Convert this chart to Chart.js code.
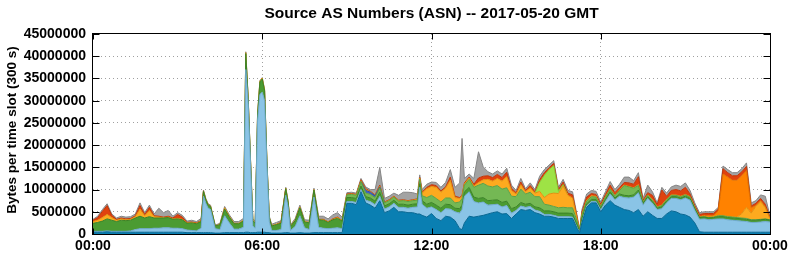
<!DOCTYPE html>
<html><head><meta charset="utf-8">
<script src="https://cdn.jsdelivr.net/npm/chart.js@4/dist/chart.umd.min.js"></script>
<style>html,body{margin:0;padding:0;background:#fff}#wrap{width:792px;height:259px}</style>
</head><body><div id="wrap"><canvas id="c" width="792" height="259"></canvas></div>
<script>
const chartTitle = 'Source AS Numbers (ASN) -- 2017-05-20 GMT';
const yAxisTitle = 'Bytes per time slot (300 s)';
const yTickValues = [0,5000000,10000000,15000000,20000000,25000000,30000000,35000000,40000000,45000000];
const xTickMinutes = [0,360,720,1080,1440];
const xTickLabels = ['00:00','06:00','12:00','18:00','00:00'];
const UNIT = 1e6; // series below are in millions of bytes

const minutes = [0,10,20,30,40,50,
60,70,80,90,100,110,
120,130,140,150,160,170,
180,190,200,210,220,230,235,
240,245,250,260,270,280,290,
300,310,320,325,330,335,340,345,350,355,
360,365,370,375,380,390,400,410,415,
420,430,440,450,460,470,
480,490,500,510,520,530,
540,550,560,570,580,590,
600,610,620,630,640,650,
660,670,680,690,695,700,710,
720,730,740,750,760,770,
780,785,790,800,810,820,830,
840,850,860,870,880,890,
900,910,920,930,940,950,
960,970,980,990,1000,1010,
1020,1030,1035,1040,1050,1060,1070,
1080,1090,1100,1110,1120,1130,
1140,1150,1160,1170,1180,1190,
1200,1210,1220,1230,1240,1250,
1260,1270,1280,1290,1300,1310,
1320,1330,1340,1350,1360,1370,
1380,1390,1400,1410,1420,1430,
1440];

const darkBlue = [.4,.4,.4,.5,.4,.4,
.4,.4,.4,.4,.4,.4,
.4,.4,.4,.4,.4,.4,
.4,.4,.3,.3,.3,.3,.3,
.3,.3,.3,.2,.2,.3,.3,
.3,.3,.3,.4,.4,.3,.3,.3,.4,.4,
.4,.4,.3,.3,.2,.2,.2,.3,.3,
.2,.2,.3,.2,.2,.3,
.3,.3,.3,.3,.3,.3,
6.9,6.9,6.6,9.5,7.0,6.5,
5.8,7.5,4.8,5.2,6.0,5.0,
5.0,4.8,4.8,4.5,4.5,4.2,3.8,
4.6,3.5,3.0,4.0,3.8,3.0,
1.2,1.0,2.5,4.0,3.8,4.0,4.2,
4.5,4.8,5.0,4.5,4.6,3.5,
4.5,5.5,5.3,5.5,4.8,4.5,
4.0,4.0,3.8,3.5,3.5,3.5,
3.5,1.2,.3,2.5,6.0,7.0,7.0,
5.0,6.5,7.5,6.5,6.0,5.5,
5.3,4.8,5.5,4.0,5.0,4.2,
3.5,3.5,4.5,5.2,5.0,4.5,
4.3,3.8,2.5,.5,.4,.4,
.4,.4,.4,.4,.4,.4,
.4,.4,.4,.4,.4,.4,
.4];

const lightBlue = [.2,.2,.2,.2,.2,.2,
.2,.2,.3,.6,.8,.8,
.8,.9,.9,1.0,1.0,.9,
.9,.8,.6,.5,.4,1.0,8.2,
6.6,5.5,5.2,1.0,.8,3.8,2.2,
.8,.8,1.2,36.6,29.0,15.5,1.5,1.0,25.0,31.0,
31.5,29.6,15.0,2.5,.6,.6,.8,8.4,5.8,
.6,1.5,3.8,1.2,.8,8.0,
1.2,1.0,.9,1.0,1.1,.9,
.4,.4,.5,.5,.6,.8,
.8,1.0,.8,.9,.9,1.0,
1.0,1.0,1.2,1.6,6.0,2.5,2.0,
1.5,2.0,1.8,1.7,1.8,2.0,
3.5,4.5,6.0,5.5,3.5,3.0,3.0,
2.0,1.8,1.7,1.6,1.8,1.2,
.8,.8,.7,.7,.6,.6,
.4,.4,.4,.4,.4,.4,
.3,.2,.1,.2,.3,.3,.3,
.4,.8,1.5,1.2,2.5,2.7,
2.8,3.5,3.8,2.5,3.0,2.7,
2.0,2.2,2.5,2.8,3.0,3.2,
3.8,3.8,2.8,2.8,3.0,2.8,
2.9,3.0,3.0,2.8,2.7,2.6,
2.5,2.4,2.2,2.2,2.3,2.4,
2.3];

const darkGreen = [1.8,2.0,2.3,2.7,2.5,2.2,
2.5,2.4,2.4,2.6,2.8,2.4,
2.7,2.3,2.3,2.2,2.3,2.0,
2.1,2.0,1.5,1.7,1.6,1.5,1.1,
.8,.7,.7,.6,1.1,1.5,1.3,
1.2,1.2,1.4,3.6,1.2,.9,1.2,1.1,1.3,2.8,
3.0,2.2,1.0,.9,1.0,1.3,1.4,1.5,1.1,
.9,1.3,1.8,1.3,1.5,1.6,
1.7,1.8,1.4,1.9,2.1,1.7,
.9,.9,.9,.8,.8,.8,
.8,.9,.7,.7,.7,.7,
.7,.7,.7,.7,.8,.8,.9,
1.0,1.0,1.0,1.0,1.0,.8,
1.0,1.0,1.0,1.0,1.0,1.0,1.0,
1.0,1.0,1.0,1.0,1.0,1.0,
.8,.8,.7,.7,.7,.8,
.8,.8,.8,.8,.8,.8,
.8,.6,.2,.8,.5,.5,.5,
.4,.5,.5,.4,.5,.5,
.5,.5,.6,.4,.4,.4,
.3,.4,.4,.4,.4,.4,
.4,.4,.4,.4,.4,.4,
.4,.5,.5,.5,.5,.5,
.5,.5,.5,.5,.5,.5,
.4];

const lightGreen = [0,0,0,0,0,0,
0,0,0,0,0,0,
0,0,0,0,0,0,
0,0,0,0,0,0,0,
0,0,0,0,0,0,0,
0,0,0,0,0,0,0,0,0,0,
0,0,0,0,0,0,0,0,0,
0,0,0,0,0,0,
0,0,0,0,0,0,
.6,.7,.7,1.0,.8,.8,
.8,1.0,.7,.7,.7,.7,
.8,.8,.8,.8,1.0,1.1,1.5,
1.6,1.5,1.4,1.4,1.5,1.2,
1.5,1.5,1.5,1.8,2.2,3.0,3.2,
3.3,3.0,3.2,3.0,3.0,2.8,
2.3,3.0,2.3,2.5,2.3,2.5,
1.5,1.3,1.2,1.2,1.3,1.2,
1.3,.8,.1,.8,.6,.6,.5,
.4,.5,.6,.5,.8,2.2,
2.0,1.5,1.0,.3,.3,.3,
.2,.3,.3,.3,.3,.3,
.3,.3,.2,.1,.1,.1,
.1,.2,.2,.2,.2,.2,
.2,.2,.1,.1,.1,.1,
.1];

const royalBlue = [0,0,0,0,0,0,
0,0,0,0,0,0,
0,0,0,0,0,0,
0,0,0,0,0,0,0,
0,0,0,0,0,0,0,
0,0,0,0,0,0,0,0,0,0,
0,0,0,0,0,0,0,0,0,
0,0,0,0,0,0,
0,0,0,0,0,0,
0,0,0,0,.6,.5,
.4,.2,0,0,0,0,
0,0,0,0,0,0,0,
0,0,0,0,0,0,
0,0,0,0,0,0,0,
0,0,0,0,0,0,
0,0,0,0,0,0,
0,0,0,0,0,0,
0,0,0,0,0,0,0,
0,0,0,0,0,0,
0,0,0,0,0,0,
0,0,0,0,0,0,
0,0,0,0,0,0,
0,0,0,0,0,0,
0,0,0,0,0,0,
0];

const yellowOrange = [.4,.5,.8,1.0,.6,.3,
.3,.2,.2,.3,1.6,.5,
1.4,.3,.2,.1,.1,.1,
.1,.1,.1,.1,.1,.1,.1,
.1,.1,.1,0,.1,.3,.2,
.1,.1,.2,.2,.2,.2,.1,.1,.2,.2,
.2,.2,.1,.1,.1,.1,.1,.1,.1,
.1,.1,.2,.1,.1,.1,
.1,.1,.1,.1,.2,.1,
.1,.1,.1,.2,.2,.1,
.1,.2,.1,.1,.1,.1,
.1,.1,.1,.2,.3,.6,2.0,
2.0,2.5,2.2,2.2,4.0,1.2,
.8,.5,.3,.3,.3,.6,.8,
1.5,1.3,1.6,1.8,2.5,1.3,
.6,1.0,.5,1.0,.8,1.2,
1.5,2.5,3.0,3.2,4.8,2.8,
2.2,.5,.1,.2,.2,.2,.2,
.1,.1,.1,.1,.1,.1,
.1,.1,.2,.1,.1,.1,
.1,.1,.1,.1,.1,.1,
.1,.1,.1,.1,.1,.1,
.1,.1,.1,.1,.1,.1,
1.0,2.5,1.5,3.0,4.0,2.5,
.2];

const orange = [0,0,0,0,0,0,
0,0,0,0,0,0,
0,0,0,0,0,0,
0,0,0,0,0,0,0,
0,0,0,0,0,0,0,
0,0,0,0,0,0,0,0,0,0,
0,0,0,0,0,0,0,0,0,
0,0,0,0,0,0,
0,0,0,0,0,0,
0,0,0,0,0,0,
0,0,0,0,0,0,
0,0,0,0,0,0,0,
0,0,0,0,0,0,
0,0,0,0,0,0,0,
0,0,0,0,0,0,
0,0,0,0,0,0,
0,0,0,0,0,0,
0,0,0,0,0,0,0,
0,0,0,0,0,0,
0,0,0,0,0,0,
0,0,0,0,0,0,
0,0,0,0,.2,.3,
.3,1.0,9.3,8.8,8.2,8.3,
8.5,8.3,1.2,.2,.2,.2,
0];

const lime = [0,0,0,0,0,0,
0,0,0,0,0,0,
0,0,0,0,0,0,
0,0,0,0,0,0,0,
0,0,0,0,0,0,0,
0,0,0,0,0,0,0,0,0,0,
0,0,0,0,0,0,0,0,0,
0,0,0,0,0,0,
0,0,0,0,0,0,
0,0,0,0,0,0,
0,0,0,0,0,0,
0,0,0,0,0,0,0,
0,0,0,0,0,0,
0,0,0,0,0,0,0,
0,0,0,0,0,0,
0,0,0,0,0,2.0,
5.0,5.5,6.2,.5,.3,0,
0,0,0,0,0,0,0,
0,0,0,0,0,0,
0,0,0,0,0,0,
0,0,0,0,0,0,
0,0,0,0,0,0,
0,0,0,0,0,0,
0,0,0,0,0,0,
0];

const red = [.3,.6,1.4,2.0,.5,.2,
.2,.2,.2,.2,.8,.3,
.7,.2,.2,.1,.2,.2,
.9,.5,.1,.1,.1,.1,0,
0,0,0,0,0,0,0,
0,0,0,0,0,0,0,0,0,0,
0,0,0,0,0,0,.1,0,0,
0,0,0,0,0,0,
0,.1,0,.1,.1,0,
.1,.1,.1,.2,.2,.1,
.1,.2,.1,.1,.1,.1,
.1,.1,.1,.1,.1,.2,.3,
.4,.4,.3,.3,.7,.3,
.2,.2,.2,.2,.4,1.0,.8,
.8,.8,.9,.8,1.0,.5,
.3,.6,.3,.5,.3,.6,
.6,.4,.5,.4,.6,.5,
.7,.3,0,.4,.7,.5,.4,
.4,.5,.8,.6,.5,.6,
.8,.8,1.8,.3,.5,1.0,
.5,3.4,.7,1.0,1.2,1.2,
1.6,.6,.4,.5,.4,.5,
.4,.4,1.2,1.0,1.0,1.0,
.9,.9,.4,.5,.5,.6,
.3];

const gray = [.2,.3,.4,.4,.3,.3,
.4,.4,.4,.4,.6,.4,
.5,.4,1.8,1.0,1.3,.4,
.4,.4,.3,.4,.3,.5,.2,
.2,.2,.2,.2,.2,.3,.3,
.4,.4,.4,.2,.2,.1,.4,.3,.1,.1,
.1,.1,.1,.2,.3,.4,.4,.2,.2,
.2,.4,.4,.4,.5,.3,
.7,.7,.7,.9,1.0,.8,
.3,.3,.3,.3,.4,.4,
1.2,4.0,.8,.8,.7,1.1,
1.7,1.9,1.6,1.1,.6,.6,.7,
.6,.7,.8,1.0,1.7,2.0,
3.3,12.8,1.0,.7,1.3,5.9,2.1,
.9,.8,.8,.8,.9,.7,
.5,.8,.4,.6,.5,.8,
.7,.6,.6,.5,.6,.6,
.7,.4,.1,.6,.7,.7,.7,
.5,.6,.8,.7,.8,1.2,
1.3,.8,.9,.4,1.7,.8,
.4,.6,.7,.8,1.0,1.0,
1.0,.8,.6,.4,.4,.4,
.4,.4,.6,.7,.7,.7,
.7,.8,.7,.6,.8,1.8,
.3];

const seriesList = [
  {name:'AS dark blue', values:darkBlue, fill:'#0a7fb2', line:'#076793'},
  {name:'AS light blue', values:lightBlue, fill:'#8ac4e6', line:'#6ea9cb'},
  {name:'AS dark green', values:darkGreen, fill:'#4b9b32', line:'#3a8226'},
  {name:'AS light green', values:lightGreen, fill:'#74b854', line:'#5e9f42'},
  {name:'AS royal blue', values:royalBlue, fill:'#3e62c4', line:'#2f4ea6'},
  {name:'AS yellow orange', values:yellowOrange, fill:'#fdaa1f', line:'#e0900f'},
  {name:'AS orange', values:orange, fill:'#ff8200', line:'#e06f00'},
  {name:'AS lime', values:lime, fill:'#9ee345', line:'#84c830'},
  {name:'AS red', values:red, fill:'#e0420e', line:'#c0360a'},
  {name:'AS gray', values:gray, fill:'#a3a3a3', line:'#858585'}
];

for (const s of seriesList) {
  if (s.values.length !== minutes.length) throw new Error(s.name + ' length ' + s.values.length + ' != ' + minutes.length);
}

const FONT = '"Liberation Sans", Arial, Helvetica, sans-serif';
Chart.defaults.color = '#000';
Chart.defaults.font.family = FONT;

const datasets = seriesList.map((s, i) => ({
  label: s.name,
  data: minutes.map((m, k) => ({x: m, y: s.values[k] * UNIT})),
  backgroundColor: s.fill,
  borderColor: s.line,
  borderWidth: 1,
  pointRadius: 0,
  tension: 0,
  fill: i === 0 ? 'origin' : '-1',
  segment: {
    borderColor: c => (c.p0.parsed.y === 0 && c.p1.parsed.y === 0) ? 'rgba(0,0,0,0)' : s.line
  }
}));

const framePlugin = {
  id: 'frame',
  afterDraw(chart) {
    const {ctx, chartArea: a, scales} = chart;
    const x = scales.x, y = scales.y;
    ctx.save();
    ctx.strokeStyle = '#000';
    ctx.lineWidth = 1;
    const L = Math.round(a.left) - 0.5, R = Math.round(a.right) + 0.5;
    const T = Math.round(a.top) - 0.5, B = Math.round(a.bottom) + 0.5;
    ctx.beginPath();
    for (const v of yTickValues) {
      const py = Math.round(y.getPixelForValue(v)) + 0.5;
      ctx.moveTo(L, py); ctx.lineTo(L + 7, py);
      ctx.moveTo(R, py); ctx.lineTo(R - 7, py);
    }
    for (const m of xTickMinutes) {
      const px = Math.round(x.getPixelForValue(m)) + 0.5;
      ctx.moveTo(px, B); ctx.lineTo(px, B - 6);
      ctx.moveTo(px, T); ctx.lineTo(px, T + 6);
    }
    ctx.stroke();
    ctx.strokeRect(L, T, R - L, B - T);
    ctx.fillStyle = '#000';
    ctx.font = 'bold 15.5px ' + FONT;
    ctx.textAlign = 'center';
    ctx.textBaseline = 'alphabetic';
    ctx.fillText(chartTitle, (a.left + a.right) / 2, 18);
    ctx.translate(12, 130);
    ctx.rotate(-Math.PI / 2);
    ctx.textBaseline = 'middle';
    ctx.font = 'bold 13.5px ' + FONT;
    ctx.fillText(yAxisTitle, 0, 0);
    ctx.restore();
  }
};

new Chart(document.getElementById('c'), {
  type: 'line',
  data: {datasets},
  plugins: [framePlugin],
  options: {
    responsive: false,
    animation: false,
    events: [],
    layout: {padding: {top: 34, right: 22, left: 0, bottom: 0}},
    plugins: {legend: {display: false}, tooltip: {enabled: false}, title: {display: false}},
    scales: {
      x: {
        type: 'linear', min: 0, max: 1440,
        afterBuildTicks: s => { s.ticks = xTickMinutes.map(v => ({value: v})); },
        afterFit: s => { s.height = 25; },
        ticks: {
          padding: 4, maxRotation: 0, autoSkip: false,
          font: {size: 14, weight: 'bold'},
          callback: v => xTickLabels[xTickMinutes.indexOf(v)]
        },
        grid: {
          drawTicks: false,
          color: c => (c.tick && (c.tick.value === 0 || c.tick.value === 1440)) ? 'rgba(0,0,0,0)' : '#a0a0a0',
          lineWidth: 1
        },
        border: {display: false, dash: [1, 3]}
      },
      y: {
        stacked: true, min: 0, max: 45000000,
        afterBuildTicks: s => { s.ticks = yTickValues.map(v => ({value: v})); },
        afterFit: s => { s.width = 93; },
        ticks: {
          padding: 7,
          font: {size: 14, weight: 'bold'},
          callback: v => String(v)
        },
        grid: {
          drawTicks: false,
          color: c => (c.tick && (c.tick.value === 0 || c.tick.value === 45000000)) ? 'rgba(0,0,0,0)' : '#a0a0a0',
          lineWidth: 1
        },
        border: {display: false, dash: [1, 3]}
      }
    }
  }
});
</script>
</body></html>
